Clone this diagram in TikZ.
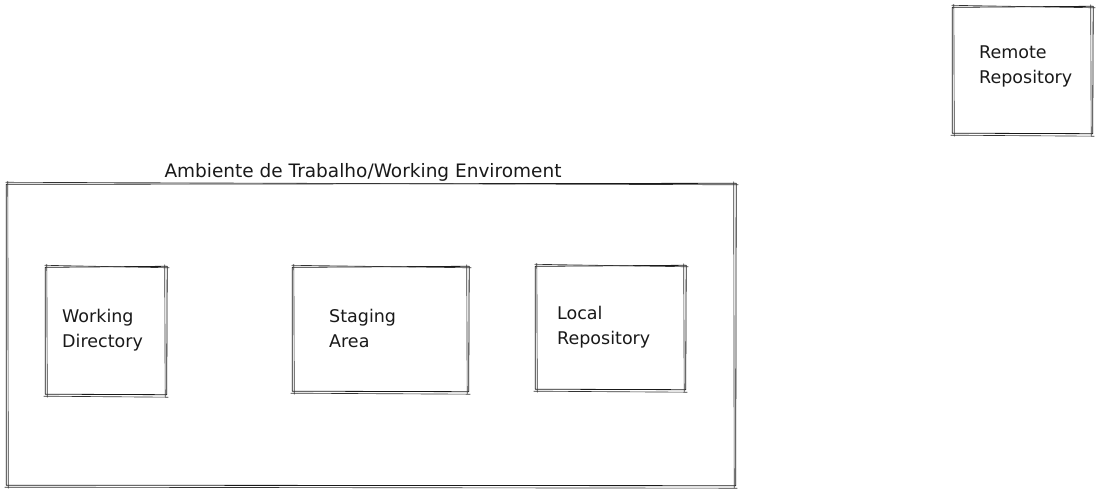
\documentclass[tikz,border=0pt]{standalone}
\usepackage{fontspec}
\setmainfont{DejaVu Sans}
\begin{document}
\begin{tikzpicture}[x=1pt,y=-1pt,
  frame/.style={draw=none, inner sep=0pt},
  pen/.style={draw=black!90, line width=0.8pt, line cap=round, line join=round},
  pentwo/.style={draw=black!80, line width=0.65pt, line cap=round},
  label/.style={font=\fontsize{17.5}{25}\selectfont, align=left, anchor=west, inner sep=0pt, text=black!90},
  title/.style={font=\fontsize{18.5}{25}\selectfont, inner sep=0pt, text=black!90}]
\useasboundingbox (0,0) rectangle (1112,494);

% two-pass hand-drawn outline around a named node
\newcommand{\roughbox}[1]{%
  \draw[pen] ([shift={(-0.5,0.5)}]#1.north west) -- ([shift={(1,-0.5)}]#1.north east)
    -- ([shift={(0.5,0.5)}]#1.south east) -- ([shift={(-0.5,0)}]#1.south west) -- cycle;
  \draw[pentwo] ([shift={(-1,-1.5)}]#1.north west) -- ([shift={(3,1)}]#1.north east);
  \draw[pentwo] ([shift={(-1.5,-2)}]#1.north east) -- ([shift={(-1,2.5)}]#1.south east);
  \draw[pentwo] ([shift={(2,3)}]#1.south east) -- ([shift={(-2,2)}]#1.south west);
  \draw[pentwo] ([shift={(1.5,3)}]#1.south west) -- ([shift={(1,-2.5)}]#1.north west);
}

% boxes
\node[frame, minimum width=139, minimum height=126] (remote) at (1022.5,70) {};
\node[frame, minimum width=728, minimum height=301] (env) at (371,334.5) {};
\node[frame, minimum width=120, minimum height=127] (wd) at (106,330.5) {};
\node[frame, minimum width=175, minimum height=124] (sa) at (380.5,329) {};
\node[frame, minimum width=149, minimum height=123] (lr) at (610.5,327.5) {};

\roughbox{remote}
\roughbox{env}
\roughbox{wd}
\roughbox{sa}
\roughbox{lr}

% labels
\node[label] (remotetext) at (979,66) {Remote\\Repository};
\node[label] (wdtext) at (62,330) {Working\\Directory};
\node[label] (satext) at (329,328) {Staging\\Area};
\node[label] (lrtext) at (557,327) {Local\\Repository};
\node[title] (envtext) at (363,172) {Ambiente de Trabalho/Working Enviroment};
\end{tikzpicture}
\end{document}
